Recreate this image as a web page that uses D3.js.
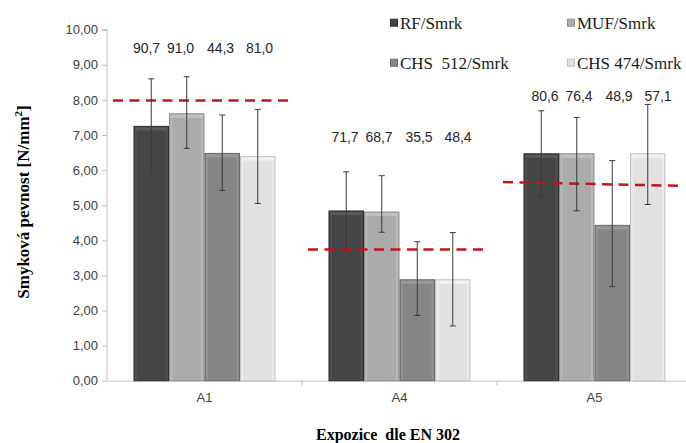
<!DOCTYPE html>
<html><head><meta charset="utf-8">
<script src="https://cdn.jsdelivr.net/npm/d3@7"></script>
<style>body{margin:0;background:#fff}svg{display:block}</style>
</head><body>
<svg id="c" width="686" height="443"></svg>
<script>
const categories = ["A1", "A4", "A5"];
const seriesNames = ["RF/Smrk", "MUF/Smrk", "CHS  512/Smrk", "CHS 474/Smrk"];
const rfValues   = [7.26, 4.85, 6.48];
const mufValues  = [7.62, 4.82, 6.48];
const chs512Values = [6.49, 2.89, 4.44];
const chs474Values = [6.40, 2.89, 6.48];
const rfErrLow   = [5.93, 3.74, 5.27];
const rfErrHigh  = [8.60, 5.95, 7.69];
const mufErrLow  = [6.62, 4.23, 4.84];
const mufErrHigh = [8.66, 5.84, 7.50];
const chs512ErrLow  = [5.42, 1.86, 2.68];
const chs512ErrHigh = [7.57, 3.96, 6.27];
const chs474ErrLow  = [5.05, 1.56, 5.02];
const chs474ErrHigh = [7.73, 4.22, 7.87];
const pctLabels = [["90,7","91,0","44,3","81,0"],["71,7","68,7","35,5","48,4"],["80,6","76,4","48,9","57,1"]];
const labelLevel = [9.48, 6.95, 8.12];
const refStart = [7.98, 3.74, 5.66];
const refEnd   = [7.98, 3.74, 5.55];
const yTicks = [0,1,2,3,4,5,6,7,8,9,10];

const colors = ["#454545", "#ababab", "#858585", "#e2e2e2"];
const strokes = ["#2e2e2e", "#8f8f8f", "#6a6a6a", "#c4c4c4"];
const highlights = ["#5a5a5a", "#c2c2c2", "#9a9a9a", "#f2f2f2"];

const vals = [rfValues, mufValues, chs512Values, chs474Values];
const lows = [rfErrLow, mufErrLow, chs512ErrLow, chs474ErrLow];
const highs = [rfErrHigh, mufErrHigh, chs512ErrHigh, chs474ErrHigh];

const svg = d3.select("#c");
const x0 = d3.scaleBand().domain(categories).range([107, 692]).paddingInner(0).paddingOuter(0);
const x1 = d3.scaleBand().domain(d3.range(4)).range([0, x0.bandwidth()]).paddingOuter(0.746).paddingInner(0.0);
const y = d3.scaleLinear().domain([0, 10]).range([380.7, 29.7]);

// Y axis
const yAxis = svg.append("g").attr("transform", "translate(107,0)")
  .call(d3.axisLeft(y).tickValues(yTicks).tickSize(5).tickPadding(4)
    .tickFormat(d => d3.format(".2f")(d).replace(".", ",")));
yAxis.select(".domain").attr("stroke", "#bfbfbf").attr("d", `M-5,${y(10)}H0V${y(0)}`);
yAxis.selectAll(".tick line").attr("stroke", "#bfbfbf");
yAxis.selectAll(".tick text").attr("fill", "#404040").style("font", "13px 'Liberation Sans', Arial, sans-serif");

// X axis
const xAxis = svg.append("g").attr("transform", `translate(0,${y(0)})`)
  .call(d3.axisBottom(x0).tickSize(0).tickPadding(12));
xAxis.select(".domain").attr("stroke", "#bfbfbf");
xAxis.selectAll(".tick text").attr("fill", "#404040").style("font", "13px 'Liberation Sans', Arial, sans-serif");
categories.slice(1).forEach(c => {
  xAxis.append("line").attr("x1", x0(c)).attr("x2", x0(c)).attr("y1", 0).attr("y2", 5).attr("stroke", "#bfbfbf");
});

// Bars
categories.forEach((cat, ci) => {
  const g = svg.append("g").attr("transform", `translate(${x0(cat)},0)`);
  for (let s = 0; s < 4; s++) {
    const bx = x1(s), bw = x1.bandwidth();
    const top = y(vals[s][ci]), h = y(0) - top;
    g.append("rect").attr("x", bx + 0.5).attr("y", top + 0.5).attr("width", bw - 1).attr("height", h - 0.5)
      .attr("fill", colors[s]).attr("stroke", strokes[s]).attr("stroke-width", 1);
    g.append("rect").attr("x", bx + 1.5).attr("y", top + 1.5).attr("width", bw - 3).attr("height", 3)
      .attr("fill", highlights[s]);
    g.append("rect").attr("x", bx + 1.5).attr("y", top + 1.5).attr("width", 2).attr("height", h - 2)
      .attr("fill", highlights[s]).attr("opacity", 0.6);
    g.append("rect").attr("x", bx + bw - 3.5).attr("y", top + 1.5).attr("width", 2).attr("height", h - 2)
      .attr("fill", highlights[s]).attr("opacity", 0.6);
  }
});

// Reference dashed lines
categories.forEach((cat, ci) => {
  svg.append("line")
    .attr("x1", x0(cat) + 6).attr("x2", x0(cat) + x0.bandwidth() - 10)
    .attr("y1", y(refStart[ci])).attr("y2", y(refEnd[ci]))
    .attr("stroke", "#c0161c").attr("stroke-width", 2.5).attr("stroke-dasharray", "10,6.5");
});

// Error bars
categories.forEach((cat, ci) => {
  for (let s = 0; s < 4; s++) {
    const cx = x0(cat) + x1(s) + x1.bandwidth() / 2;
    const g = svg.append("g").attr("stroke", "#3a3a3a").attr("stroke-width", 1);
    g.append("line").attr("x1", cx).attr("x2", cx).attr("y1", y(highs[s][ci])).attr("y2", y(lows[s][ci]));
    g.append("line").attr("x1", cx - 3).attr("x2", cx + 3).attr("y1", y(highs[s][ci])).attr("y2", y(highs[s][ci]));
    g.append("line").attr("x1", cx - 3).attr("x2", cx + 3).attr("y1", y(lows[s][ci])).attr("y2", y(lows[s][ci]));
  }
});

// Percentage labels
const labelOffsets = [-56, -22, 18, 57];
const groupShift = [-2, 1.5, 6.5];
categories.forEach((cat, ci) => {
  const c = x0(cat) + x0.bandwidth() / 2 + groupShift[ci];
  pctLabels[ci].forEach((t, s) => {
    svg.append("text").attr("x", c + labelOffsets[s]).attr("y", y(labelLevel[ci]) + 5)
      .attr("text-anchor", "middle").attr("fill", "#262626")
      .style("font", "14px 'Liberation Sans', Arial, sans-serif").text(t);
  });
});

// Legend
const legPos = [[390, 22.7], [567, 22.7], [390, 62.7], [567, 62.7]];
seriesNames.forEach((n, i) => {
  const [lx, ly] = legPos[i];
  svg.append("rect").attr("x", lx + 0.5).attr("y", ly - 3.5).attr("width", 7).attr("height", 7)
    .attr("fill", colors[i]).attr("stroke", strokes[i]);
  svg.append("text").attr("x", lx + 10).attr("y", ly + 6)
    .attr("fill", "#1a1a1a").style("white-space", "pre")
    .style("font", "17px 'Liberation Serif', 'Times New Roman', serif").text(n);
});

// Axis titles
svg.append("text").attr("transform", "translate(29,202) rotate(-90)").attr("text-anchor", "middle")
  .style("font", "bold 17px 'Liberation Serif', 'Times New Roman', serif").attr("fill", "#000")
  .html('Smyková pevnost [N/mm<tspan dy="-7" font-size="11">2</tspan><tspan dy="7">]</tspan>');
svg.append("text").attr("x", 388).attr("y", 440).attr("text-anchor", "middle").style("white-space", "pre")
  .style("font", "bold 16px 'Liberation Serif', 'Times New Roman', serif").attr("fill", "#000")
  .text("Expozice  dle EN 302");
</script>
</body></html>
